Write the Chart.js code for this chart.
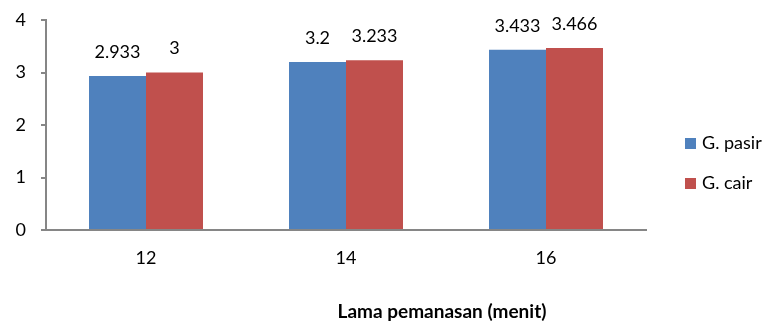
<!DOCTYPE html>
<html>
<head>
<meta charset="utf-8">
<script src="https://cdn.jsdelivr.net/npm/chart.js@4/dist/chart.umd.min.js"></script>
<style>
  html, body { margin: 0; padding: 0; background: #fff; }
  #wrap { width: 770px; height: 327px; position: relative; }
</style>
</head>
<body>
<div id="wrap"><canvas id="barChart"></canvas></div>
<script>
// Heating time categories and measured values
const categories = ['12', '14', '16'];
const pasirValues = [2.933, 3.2, 3.433];
const cairValues = [3, 3.233, 3.466];
const pasirLabels = ['2.933', '3.2', '3.433'];
const cairLabels = ['3', '3.233', '3.466'];
const yTicks = [0, 1, 2, 3, 4];

const FONT = "Lato, 'Open Sans', sans-serif";
const AXIS_COLOR = '#868686';

// Value labels drawn above each bar
const valueLabels = {
    id: 'valueLabels',
    afterDatasetsDraw(chart) {
        const ctx = chart.ctx;
        ctx.save();
        ctx.font = '18px ' + FONT;
        ctx.fillStyle = '#000';
        ctx.textAlign = 'center';
        ctx.textBaseline = 'middle';
        chart.data.datasets.forEach((ds, i) => {
            const meta = chart.getDatasetMeta(i);
            meta.data.forEach((bar, j) => {
                ctx.fillText(ds.valueText[j], bar.x, bar.y - 24);
            });
        });
        ctx.restore();
    }
};

// Legend on the right and the bold axis title underneath
const sideLegend = {
    id: 'sideLegend',
    afterDraw(chart) {
        const ctx = chart.ctx;
        ctx.save();
        ctx.font = '18px ' + FONT;
        ctx.textBaseline = 'middle';
        ctx.textAlign = 'left';
        chart.data.datasets.forEach((ds, i) => {
            const y = 143 + i * 40;
            ctx.fillStyle = ds.backgroundColor;
            ctx.fillRect(685, y - 5, 11, 11);
            ctx.fillStyle = '#000';
            ctx.fillText(ds.label, 702, y);
        });
        ctx.font = 'bold 19px ' + FONT;
        ctx.textAlign = 'center';
        ctx.fillText('Lama pemanasan (menit)', 442, 312);
        ctx.restore();
    }
};

new Chart(document.getElementById('barChart'), {
    type: 'bar',
    data: {
        labels: categories,
        datasets: [
            {
                label: 'G. pasir',
                data: pasirValues,
                valueText: pasirLabels,
                backgroundColor: '#4F81BD',
                borderWidth: 0
            },
            {
                label: 'G. cair',
                data: cairValues,
                valueText: cairLabels,
                backgroundColor: '#C0504D',
                borderWidth: 0
            }
        ]
    },
    options: {
        responsive: true,
        maintainAspectRatio: false,
        animation: false,
        layout: { padding: { top: 20, right: 124, bottom: 0, left: 0 } },
        datasets: {
            bar: { categoryPercentage: 0.57, barPercentage: 1.0 }
        },
        plugins: {
            legend: { display: false },
            tooltip: { enabled: false }
        },
        scales: {
            x: {
                grid: { display: false, drawTicks: false },
                border: { display: true, color: AXIS_COLOR, width: 2 },
                ticks: { color: '#000', font: { family: FONT, size: 18 }, padding: 17 },
                afterFit(scale) { scale.height = 97; }
            },
            y: {
                min: 0,
                max: 4,
                afterBuildTicks(scale) { scale.ticks = yTicks.map(v => ({ value: v })); },
                grid: { drawOnChartArea: false, drawTicks: true, tickLength: 5, color: AXIS_COLOR, lineWidth: 2 },
                border: { display: true, color: AXIS_COLOR, width: 2 },
                ticks: { color: '#000', font: { family: FONT, size: 18 }, padding: 15 },
                afterFit(scale) {
                    scale.width = 46;
                    scale.paddingTop = 0;
                    scale.paddingBottom = 0;
                }
            }
        }
    },
    plugins: [valueLabels, sideLegend]
});
</script>
</body>
</html>
